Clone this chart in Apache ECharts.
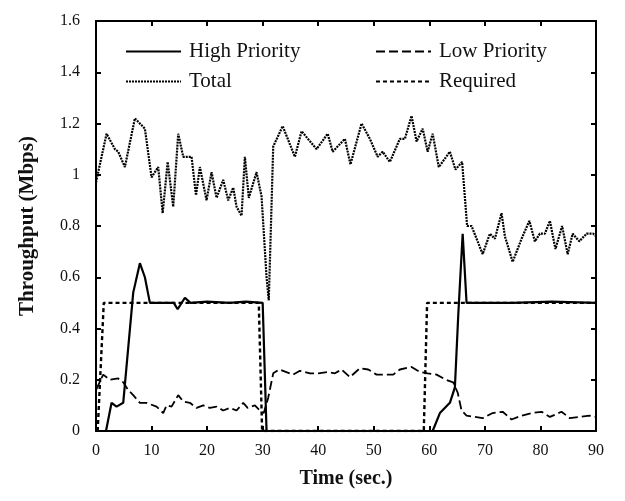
<!DOCTYPE html>
<html>
<head>
<meta charset="utf-8">
<script src="https://cdn.jsdelivr.net/npm/echarts@6/dist/echarts.min.js"></script>
<style>html,body{margin:0;padding:0;background:#fff;}#c{width:625px;height:501px;}</style>
</head>
<body>
<div id="c"></div>
<script>
var xTicks = [0, 10, 20, 30, 40, 50, 60, 70, 80, 90];
var yTicks = [0, 0.2, 0.4, 0.6, 0.8, 1, 1.2, 1.4, 1.6];

var highPriority = [[0,0],[1.8,0],[2.8,0.11],[3.7,0.095],[4.9,0.11],[6.7,0.54],[7.9,0.655],[8.8,0.60],[9.7,0.50],[12,0.5],[14,0.5],[14.7,0.475],[16,0.52],[17,0.5],[20,0.505],[24,0.5],[27,0.505],[30,0.5],[30.7,0],[60.6,0],[61.9,0.07],[63.7,0.11],[64.6,0.17],[65.2,0.45],[66,0.77],[66.7,0.5],[75,0.5],[82,0.505],[90,0.5]];

var lowPriority = [[0,0.16],[1.3,0.22],[2.5,0.20],[4,0.205],[4.9,0.19],[5.8,0.16],[6.7,0.14],[7.9,0.11],[9.1,0.11],[10.9,0.095],[12.1,0.07],[12.7,0.10],[13.6,0.095],[14.8,0.14],[15.7,0.115],[16.9,0.11],[18.1,0.09],[19.3,0.10],[20.5,0.09],[21.7,0.095],[22.9,0.08],[24.1,0.09],[25.3,0.08],[26.5,0.11],[27.3,0.09],[28.6,0.10],[29.5,0.08],[30.2,0.07],[31,0.13],[31.9,0.225],[33,0.24],[35.5,0.22],[36.7,0.235],[38.5,0.225],[40,0.225],[41.7,0.23],[43,0.225],[44.2,0.24],[45.7,0.21],[47.5,0.245],[49,0.24],[50.5,0.22],[52,0.22],[53.5,0.22],[54.7,0.24],[56.8,0.25],[58.3,0.23],[59.7,0.225],[61.3,0.22],[63,0.20],[64.3,0.19],[65.1,0.15],[65.8,0.08],[66.7,0.06],[69.6,0.05],[71.4,0.07],[73.2,0.075],[74.8,0.045],[76.6,0.06],[78.4,0.07],[80.2,0.075],[81.7,0.055],[83.8,0.075],[85.3,0.05],[87,0.055],[88.8,0.06],[90,0.055]];

var total = [[0,0.97],[0.5,1.02],[1.9,1.16],[3.4,1.10],[4,1.09],[5.2,1.03],[7,1.22],[8.8,1.18],[10,0.99],[11.2,1.03],[12,0.85],[12.9,1.05],[13.9,0.875],[14.8,1.16],[15.7,1.07],[17.2,1.07],[18,0.92],[18.7,1.03],[19.9,0.90],[20.8,1.01],[21.7,0.91],[22.9,0.98],[23.8,0.90],[24.7,0.95],[25.3,0.875],[26.2,0.84],[26.8,1.07],[27.5,0.91],[28.9,1.01],[29.8,0.915],[30.7,0.60],[31.1,0.51],[31.9,1.11],[33.6,1.19],[35.8,1.07],[37,1.17],[39.7,1.10],[41.7,1.16],[42.6,1.09],[44.8,1.14],[45.8,1.04],[47.8,1.20],[49.3,1.14],[50.7,1.07],[51.6,1.09],[52.9,1.05],[54.7,1.14],[55.6,1.14],[56.8,1.23],[57.7,1.13],[58.8,1.18],[59.7,1.09],[60.6,1.16],[61.7,1.03],[63.7,1.09],[64.7,1.02],[65.9,1.05],[66.8,0.80],[67.6,0.80],[69.6,0.69],[70.9,0.77],[71.8,0.75],[73,0.85],[73.6,0.76],[75,0.66],[76.6,0.75],[78,0.82],[79,0.74],[79.9,0.77],[80.8,0.77],[81.7,0.82],[82.7,0.71],[83.9,0.80],[84.9,0.69],[85.8,0.77],[87,0.74],[88.3,0.77],[89.5,0.77],[90,0.76]];

var required = [[0.3,0],[1.4,0.5],[29.3,0.5],[29.9,0],[59,0],[59.6,0.5],[90,0.5]];

var FONT = '"Liberation Serif", "Times New Roman", serif';
var chart = echarts.init(document.getElementById('c'), null, {renderer: 'canvas'});

function legendAt(name, left, top) {
  return {
    data: [name], left: left, top: top, padding: 0, itemWidth: 55, itemHeight: 14,
    itemStyle: {color: 'rgba(0,0,0,0)', borderWidth: 0, opacity: 0},
    textStyle: {fontFamily: FONT, fontSize: 21, color: '#111', padding: [0, 0, 0, 3]},
    selectedMode: false
  };
}

function axisCommon() {
  return {
    axisLine: {show: true, onZero: false, lineStyle: {color: '#000', width: 2}},
    axisTick: {show: true, inside: true, length: 5, lineStyle: {color: '#000', width: 2}},
    splitLine: {show: false}
  };
}

chart.setOption({
  animation: false,
  backgroundColor: '#fff',
  grid: {left: 96, right: 29, top: 21, bottom: 70, show: false},
  legend: [
    legendAt('High Priority', 125, 41),
    legendAt('Low Priority', 375, 41),
    legendAt('Total', 125, 71),
    legendAt('Required', 375, 71)
  ],
  xAxis: [
    Object.assign({
      type: 'value', min: xTicks[0], max: xTicks[xTicks.length - 1], interval: 10,
      position: 'bottom',
      axisLabel: {fontFamily: FONT, fontSize: 16, color: '#111', margin: 12},
      name: 'Time (sec.)', nameLocation: 'middle', nameGap: 38,
      nameTextStyle: {fontFamily: FONT, fontSize: 20, fontWeight: 'bold', color: '#111'}
    }, axisCommon()),
    Object.assign({
      type: 'value', min: xTicks[0], max: xTicks[xTicks.length - 1], interval: 10,
      position: 'top', axisLabel: {show: false}
    }, axisCommon())
  ],
  yAxis: [
    Object.assign({
      type: 'value', min: yTicks[0], max: yTicks[yTicks.length - 1], interval: 0.2,
      position: 'left',
      axisLabel: {fontFamily: FONT, fontSize: 16, color: '#111', margin: 16},
      name: 'Throughput (Mbps)', nameLocation: 'middle', nameGap: 58,
      nameTextStyle: {fontFamily: FONT, fontSize: 21, fontWeight: 'bold', color: '#111'}
    }, axisCommon()),
    Object.assign({
      type: 'value', min: yTicks[0], max: yTicks[yTicks.length - 1], interval: 0.2,
      position: 'right', axisLabel: {show: false}
    }, axisCommon())
  ],
  series: [
    {name: 'High Priority', type: 'line', data: highPriority, symbol: 'none', showSymbol: false,
      lineStyle: {color: '#000', width: 2.2, type: 'solid'}, itemStyle: {color: '#000'}, z: 5},
    {name: 'Low Priority', type: 'line', data: lowPriority, symbol: 'none', showSymbol: false,
      lineStyle: {color: '#000', width: 1.8, type: [9, 4]}, itemStyle: {color: '#000'}, z: 4},
    {name: 'Total', type: 'line', data: total, symbol: 'none', showSymbol: false,
      lineStyle: {color: '#000', width: 2.2, type: [2, 1]}, itemStyle: {color: '#000'}, z: 3},
    {name: 'Required', type: 'line', data: required, symbol: 'none', showSymbol: false,
      lineStyle: {color: '#000', width: 2.4, type: [4, 3]}, itemStyle: {color: '#000'}, z: 2}
  ]
});
</script>
</body>
</html>
